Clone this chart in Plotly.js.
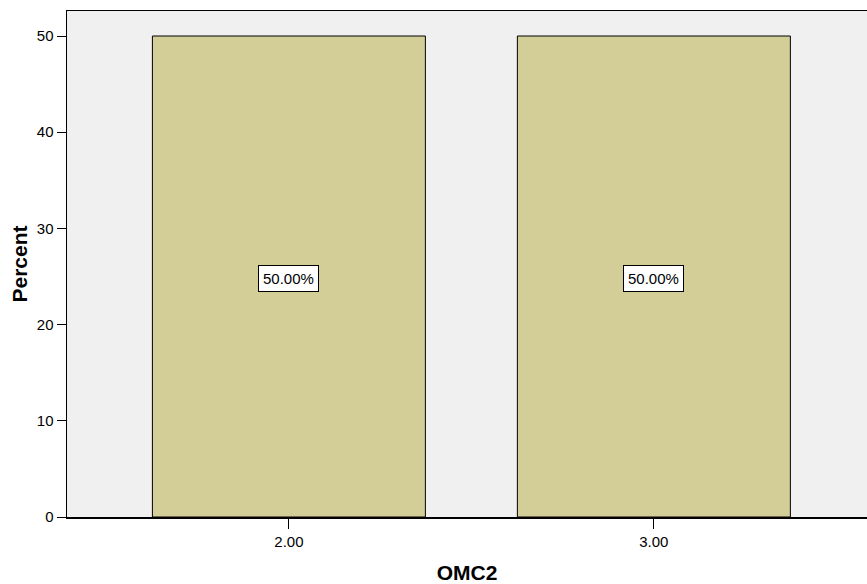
<!DOCTYPE html>
<html>
<head>
<meta charset="utf-8">
<script src="https://cdn.plot.ly/plotly-3.0.1.min.js"></script>
<style>html,body{margin:0;padding:0;background:#fff;}#chart{width:867px;height:584px;}</style>
</head>
<body>
<div id="chart"></div>
<script>
const categories = [2, 3];
const tickLabels = ["2.00", "3.00"];
const percentValues = [50, 50];
const barLabels = ["50.00%", "50.00%"];

const FONT = "Arial, 'Liberation Sans', sans-serif";

const trace = {
  type: "bar",
  x: categories,
  y: percentValues,
  width: 0.748,
  marker: { color: "#D3CE98", line: { color: "#000000", width: 1 } },
  hoverinfo: "skip"
};

const annotations = categories.map((c, i) => ({
  x: c, y: percentValues[i] / 2, xref: "x", yref: "y", yshift: -2,
  text: barLabels[i], showarrow: false,
  bgcolor: "#ffffff", bordercolor: "#000000", borderwidth: 1, borderpad: 4,
  font: { family: FONT, size: 15, color: "#000000" }
}));

const layout = {
  width: 867, height: 584,
  margin: { l: 67, r: 0, t: 11, b: 67 },
  paper_bgcolor: "#ffffff",
  plot_bgcolor: "#F0F0F0",
  showlegend: false,
  font: { family: FONT, size: 15, color: "#000000" },
  xaxis: {
    range: [1.392, 3.584],
    tickvals: categories,
    ticktext: tickLabels,
    ticks: "outside", ticklen: 10, tickcolor: "#000000", tickwidth: 1,
    showline: true, linecolor: "#000000", linewidth: 1.5, mirror: true,
    showgrid: false, zeroline: false,
    title: { text: "<b>OMC2</b>", font: { family: FONT, size: 21 }, standoff: 24 }
  },
  yaxis: {
    range: [0, 52.6],
    tickvals: [0, 10, 20, 30, 40, 50],
    ticks: "outside", ticklen: 9, tickcolor: "#000000", tickwidth: 1,
    showline: true, linecolor: "#000000", linewidth: 1.5,
    showgrid: false, zeroline: false,
    title: { text: "<b>Percent</b>", font: { family: FONT, size: 21 }, standoff: 3 }
  },
  annotations: annotations
};

Plotly.newPlot("chart", [trace], layout, { staticPlot: true, displayModeBar: false });
</script>
</body>
</html>
